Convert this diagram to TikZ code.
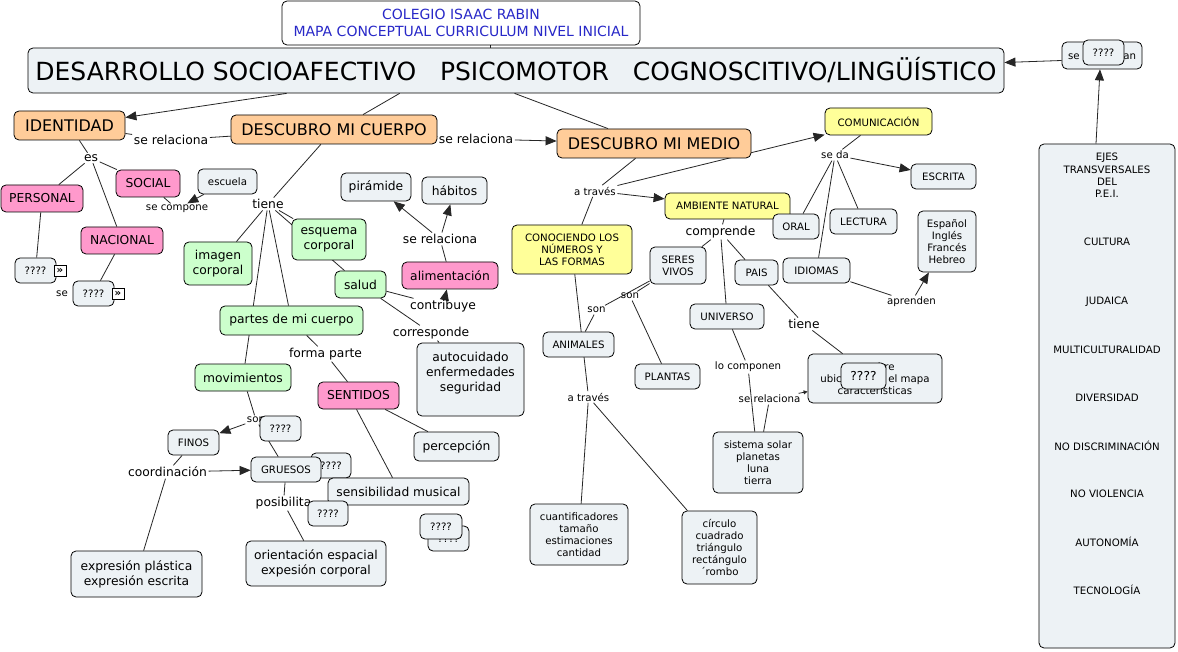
\documentclass[tikz,border=0pt]{standalone}
\usepackage{fontspec}
\setmainfont{DejaVu Sans}
\usetikzlibrary{arrows.meta}
\pgfdeclarelayer{bg}
\pgfsetlayers{bg,main}
\definecolor{cgray}{RGB}{237,242,245}
\definecolor{corange}{RGB}{255,204,153}
\definecolor{cgreen}{RGB}{204,255,204}
\definecolor{cpink}{RGB}{255,153,204}
\definecolor{cyellow}{RGB}{255,255,153}
\definecolor{ctitle}{RGB}{40,40,200}
\newcommand\fzMain{\fontsize{25}{30}\selectfont}
\newcommand\fzBig{\fontsize{16}{19}\selectfont}
\newcommand\fzMid{\fontsize{12.3}{15}\selectfont}
\newcommand\fzSm{\fontsize{10.2}{12.2}\selectfont}
\newcommand\fzTitle{\fontsize{14}{17}\selectfont}
\begin{document}
\begin{tikzpicture}[x=1pt,y=-1pt,
  box/.style={draw=black, line width=0.8pt, rounded corners=5pt, inner sep=0pt, align=center, text=black},
  cg/.style={box, fill=cgray},
  co/.style={box, fill=corange},
  cgr/.style={box, fill=cgreen},
  cp/.style={box, fill=cpink},
  cy/.style={box, fill=cyellow},
  sz/.style 2 args={minimum width=#1pt, minimum height=#2pt},
  lbl/.style={inner sep=1.5pt, align=center},
  icon/.style={draw=black, line width=0.6pt, fill=white, inner sep=0pt, minimum width=12pt, minimum height=11pt, font=\fzSm\bfseries},
  ln/.style={draw=black!85, line width=0.8pt},
  ar/.style={ln, -{Triangle[length=11pt,width=9pt]}},
  ars/.style={ln, -{Triangle[length=4pt,width=4pt]}}
]
\useasboundingbox (0,0) rectangle (1178,652);

% linking phrases
\node[lbl, font=\fzMid] (es) at (91,158) {es};
\node[lbl, font=\fzMid] (rela) at (171,140) {se relaciona};
\node[lbl, font=\fzMid] (relb) at (476,139) {se relaciona};
\node[lbl, font=\fzSm] (compone) at (177,209) {se compone};
\node[lbl, font=\fzMid] (tienea) at (268,204) {tiene};
\node[lbl, font=\fzMid] (relc) at (440,239) {se relaciona};
\node[lbl, font=\fzMid] (contrib) at (443,306) {contribuye};
\node[lbl, font=\fzMid] (corresp) at (431,333) {corresponde};
\node[lbl, font=\fzMid] (forma) at (325.5,354) {forma parte};
\node[lbl, font=\fzSm] (sona) at (256,420) {son};
\node[lbl, font=\fzMid] (coord) at (167.5,472) {coordinación};
\node[lbl, font=\fzMid] (posib) at (283.5,503) {posibilita};
\node[lbl, font=\fzSm] (travesa) at (595,191) {a través};
\node[lbl, font=\fzSm] (seda) at (835,155) {se da};
\node[lbl, font=\fzMid] (compr) at (720.5,232) {comprende};
\node[lbl, font=\fzSm] (sonb) at (596.5,310) {son};
\node[lbl, font=\fzSm] (sonc) at (630,296) {son};
\node[lbl, font=\fzSm] (travesb) at (588.5,397) {a través};
\node[lbl, font=\fzSm] (locomp) at (748,367) {lo componen};
\node[lbl, font=\fzSm] (reld) at (769.5,399) {se relaciona};
\node[lbl, font=\fzMid] (tieneb) at (804,324) {tiene};
\node[lbl, font=\fzSm] (aprenden) at (911.5,302) {aprenden};
\node[lbl, font=\fzSm] (sea) at (62,294) {se};

% concepts
\node[box, fill=white, sz={358}{44}, font=\fzTitle, text=ctitle] (title) at (461,23) {COLEGIO ISAAC RABIN\\MAPA CONCEPTUAL CURRICULUM NIVEL INICIAL};
\node[cg, sz={976}{45}, font=\fzMain] (main) at (516,70.5) {DESARROLLO SOCIOAFECTIVO\ \ \ PSICOMOTOR\ \ \ COGNOSCITIVO/LINGÜÍSTICO};
\node[co, sz={111}{29}, font=\fzBig] (identidad) at (69.5,125.5) {IDENTIDAD};
\node[co, sz={206}{29}, font=\fzBig] (cuerpo) at (334,129.5) {DESCUBRO MI CUERPO};
\node[co, sz={194}{29}, font=\fzBig] (medio) at (654,143.5) {DESCUBRO MI MEDIO};
\node[cp, sz={82}{27}, font=\fzMid] (personal) at (42,198.5) {PERSONAL};
\node[cp, sz={64}{27}, font=\fzMid] (social) at (148,183.5) {SOCIAL};
\node[cg, sz={59}{25}, font=\fzSm] (escuela) at (227.5,181.5) {escuela};
\node[cp, sz={82}{27}, font=\fzMid] (nacional) at (122,240.5) {NACIONAL};
\node[cg, sz={41}{25}, font=\fzSm] (qa) at (35.5,270.5) {????};
\node[icon] (qai) at (60,270.5) {»};
\node[cg, sz={41}{25}, font=\fzSm] (qb) at (93.5,293.5) {????};
\node[icon] (qbi) at (118,293.5) {»};
\node[cgr, sz={68}{43}, font=\fzMid] (imagen) at (218,263.5) {imagen\\corporal};
\node[cgr, sz={74}{41}, font=\fzMid] (esquema) at (329,239.5) {esquema\\corporal};
\node[cgr, sz={51}{27}, font=\fzMid] (salud) at (360.5,284.5) {salud};
\node[cgr, sz={143}{29}, font=\fzMid] (partes) at (291.5,320.5) {partes de mi cuerpo};
\node[cgr, sz={96}{27}, font=\fzMid] (movim) at (243,377.5) {movimientos};
\node[cp, sz={81}{27}, font=\fzMid] (sentidos) at (358.5,395.5) {SENTIDOS};
\node[cg, sz={70}{28}, font=\fzMid] (piramide) at (376,187) {pirámide};
\node[cg, sz={65}{27}, font=\fzMid] (habitos) at (454.5,190.5) {hábitos};
\node[cp, sz={96}{27}, font=\fzMid] (alim) at (450,275.5) {alimentación};
\node[cg, sz={107}{73}, font=\fzMid] (autoc) at (470.5,379.5) {autocuidado\\enfermedades\\seguridad\\ \mbox{}};
\node[cg, sz={85}{29}, font=\fzMid] (percep) at (456.5,446.5) {percepción};
\node[cg, sz={51}{25}, font=\fzSm] (finos) at (193.5,442.5) {FINOS};
\node[cg, sz={41}{25}, font=\fzSm] (qc) at (280.5,428.5) {????};
\node[cg, sz={40}{25}, font=\fzSm] (qd) at (331,465.5) {????};
\node[cg, sz={70}{25}, font=\fzSm] (gruesos) at (286,469.5) {GRUESOS};
\node[cg, sz={141}{27}, font=\fzMid] (sensib) at (398.5,491.5) {sensibilidad musical};
\node[cg, sz={40}{25}, font=\fzSm] (qe) at (328,513.5) {????};
\node[cg, sz={41}{25}, font=\fzSm] (qg) at (448.5,538.5) {????};
\node[cg, sz={42}{25}, font=\fzSm] (qf) at (441,526.5) {????};
\node[cg, sz={140}{45}, font=\fzMid] (orient) at (316,563.5) {orientación espacial\\expesión corporal};
\node[cg, sz={131}{46}, font=\fzMid] (expres) at (136.5,574) {expresión plástica\\expresión escrita};

\node[cy, sz={120}{49}, font=\fzSm] (conoc) at (572,249.5) {CONOCIENDO LOS\\NÚMEROS Y\\LAS FORMAS};
\node[cy, sz={125}{26}, font=\fzSm] (ambiente) at (727.5,206) {AMBIENTE NATURAL};
\node[cy, sz={107}{27}, font=\fzSm] (comunic) at (878.5,121.5) {COMUNICACIÓN};
\node[cg, sz={65}{25}, font=\fzSm] (escrita) at (943.5,176.5) {ESCRITA};
\node[cg, sz={46}{25}, font=\fzSm] (oral) at (796,226.5) {ORAL};
\node[cg, sz={67}{25}, font=\fzSm] (lectura) at (863.5,221.5) {LECTURA};
\node[cg, sz={58}{61}, font=\fzSm] (espanol) at (947,241.5) {Español\\Inglés\\Francés\\Hebreo};
\node[cg, sz={67}{25}, font=\fzSm] (idiomas) at (816.5,270.5) {IDIOMAS};
\node[cg, sz={56}{37}, font=\fzSm] (seres) at (678,265.5) {SERES\\VIVOS};
\node[cg, sz={43}{25}, font=\fzSm] (pais) at (756.5,272.5) {PAIS};
\node[cg, sz={74}{25}, font=\fzSm] (universo) at (727,316.5) {UNIVERSO};
\node[cg, sz={71}{25}, font=\fzSm] (animales) at (578.5,344.5) {ANIMALES};
\node[cg, sz={65}{25}, font=\fzSm] (plantas) at (667.5,376.5) {PLANTAS};
\node[cg, sz={134}{49}, font=\fzSm] (ubic) at (875,378.5) {nombre\\ubicación en el mapa\\características};
\node[cg, sz={45}{26}, font=\fzMid] (qh) at (863.5,376) {????};
\node[cg, sz={90}{61}, font=\fzSm] (sistema) at (758,462.5) {sistema solar\\planetas\\luna\\tierra};
\node[cg, sz={98}{61}, font=\fzSm] (cuant) at (579,534.5) {cuantificadores\\tamaño\\estimaciones\\cantidad};
\node[cg, sz={75}{73}, font=\fzSm] (circulo) at (719.5,547.5) {círculo\\cuadrado\\triángulo\\rectángulo\\´rombo};
\node[cg, sz={80}{27}, font=\fzSm] (sebox) at (1102,55.5) {se relacionan};
\node[cg, sz={41}{25}, font=\fzSm] (qi) at (1103.5,52.5) {????};
\node[cg, sz={136}{504}] (ejes) at (1107,396) {};
\node[font=\fzSm, align=center, inner sep=0pt] (ejesh) at (1107,175.5) {EJES\\TRANSVERSALES\\DEL\\P.E.I.};
\foreach \yy/\txt [count=\k] in {242/CULTURA, 302/JUDAICA, 350/MULTICULTURALIDAD, 398/DIVERSIDAD, 446/NO DISCRIMINACIÓN, 494/NO VIOLENCIA, 542/AUTONOMÍA, 590/TECNOLOGÍA}
  \node[font=\fzSm, inner sep=0pt] (ej\k) at (1107,\yy) {\txt};

% connectors
\begin{pgfonlayer}{bg}
\fill[white] (0,0) rectangle (1178,652);
\draw[ln] ([xshift=29pt]title.south) -- ([xshift=-26pt]main.north);
\draw[ar] ([xshift=259pt]main.south west) -- ([yshift=8pt]identidad.east);
\draw[ln] ([xshift=372pt]main.south west) -- ([xshift=29pt]cuerpo.north);
\draw[ln] ([xshift=487pt]main.south west) -- ([xshift=-46pt]medio.north);
\draw[ar] ([yshift=-5pt]sebox.west) -- ([yshift=8pt]main.east);
\draw[ar] ([xshift=-11pt]ejes.north) -- ([xshift=-2pt]sebox.south);
\draw[ln] (cuerpo) -- (rela);
\draw[ln] (rela) -- (identidad);
\draw[ln] (cuerpo) -- (relb);
\draw[ar] (relb) -- (medio);
\draw[ln] (identidad) -- (es);
\draw[ln] (es) -- (personal);
\draw[ln] (es) -- (social);
\draw[ln] (es) -- (nacional);
\draw[ln] (social) -- (compone);
\draw[ar] (escuela) -- (compone);
\draw[ln] (personal) -- (qa);
\draw[ln] (nacional) -- (qb);
\draw[ln] (cuerpo) -- (tienea);
\draw[ln] (tienea) -- (imagen);
\draw[ln] (tienea) -- (partes);
\draw[ln] (tienea) -- (movim);
\draw[ln] (tienea) -- (esquema);
\draw[ln] (tienea) -- (salud);
\draw[ln] (salud) -- (contrib);
\draw[ar] (contrib) -- (alim);
\draw[ln] (salud) -- (corresp);
\draw[ln] (corresp) -- (autoc);
\draw[ln] (alim) -- (relc);
\draw[ar] (relc) -- (piramide);
\draw[ar] (relc) -- (habitos);
\draw[ln] (partes) -- (forma);
\draw[ln] (forma) -- (sentidos);
\draw[ln] (sentidos) -- (percep);
\draw[ln] ([xshift=-2pt]sentidos.south) -- ([xshift=-6pt]sensib.north);
\draw[ln] (movim) -- (sona);
\draw[ar] (sona) -- (finos);
\draw[ln] (sona) -- (gruesos);
\draw[ln] (finos) -- (coord);
\draw[ar] (coord) -- (gruesos);
\draw[ln] (coord) -- (expres);
\draw[ln] (gruesos) -- (posib);
\draw[ln] (posib) -- (orient);
\draw[ln] (medio) -- (travesa);
\draw[ar] (travesa) -- (comunic);
\draw[ar] (travesa) -- (ambiente);
\draw[ln] (travesa) -- (conoc);
\draw[ln] (comunic) -- (seda);
\draw[ar] (seda) -- (escrita);
\draw[ln] (seda) -- (oral);
\draw[ln] (seda) -- (lectura);
\draw[ln] (seda) -- (idiomas);
\draw[ln] (ambiente) -- (compr);
\draw[ln] (compr) -- (seres);
\draw[ln] (compr) -- (universo);
\draw[ln] (compr) -- (pais);
\draw[ln] (seres) -- (sonb);
\draw[ln] (sonb) -- (animales);
\draw[ln] (seres) -- (sonc);
\draw[ln] (sonc) -- (plantas);
\draw[ln] (conoc) -- (travesb);
\draw[ln] (travesb) -- (cuant);
\draw[ln] (travesb) -- (circulo);
\draw[ln] (pais) -- (tieneb);
\draw[ln] (tieneb) -- (ubic);
\draw[ln] (universo) -- (locomp);
\draw[ln] (locomp) -- (sistema);
\draw[ln] (sistema) -- (reld);
\draw[ars] (reld) -- (ubic);
\draw[ln] (idiomas) -- (aprenden);
\draw[ar] (aprenden) -- (espanol);
\end{pgfonlayer}
\end{tikzpicture}
\end{document}
